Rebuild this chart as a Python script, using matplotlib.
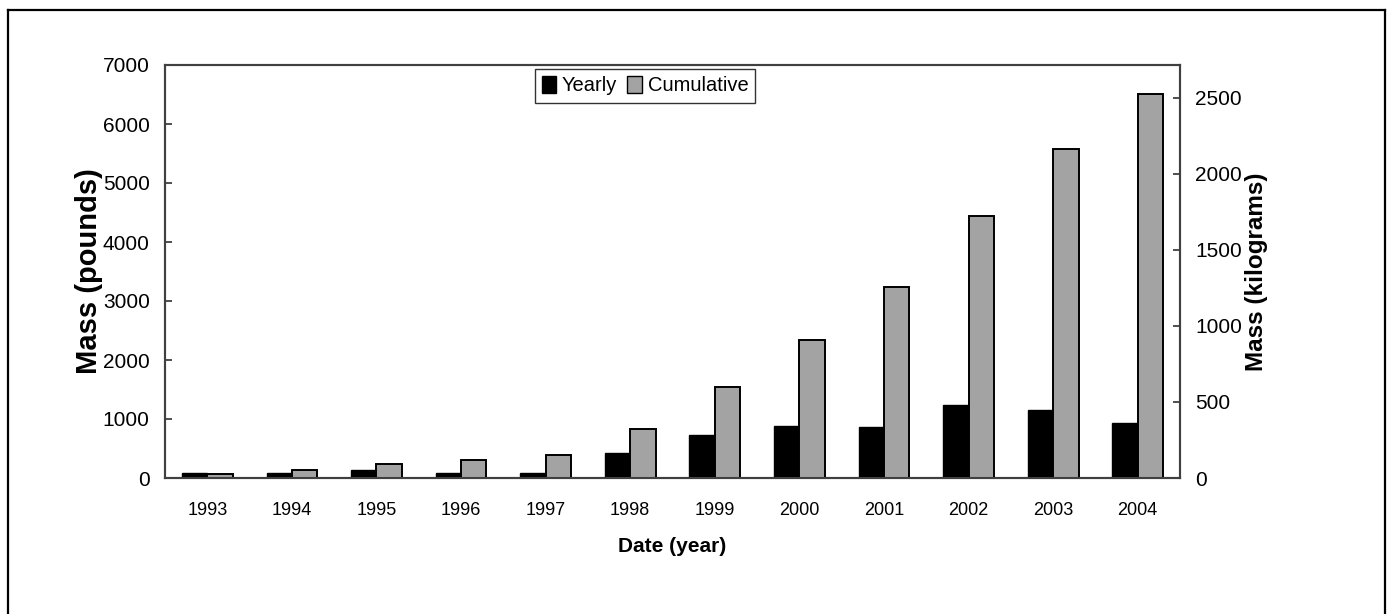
import matplotlib
matplotlib.use("Agg")
import matplotlib.pyplot as plt
from matplotlib.patches import Patch
from matplotlib.lines import Line2D
import numpy as np

years = ['1993', '1994', '1995', '1996', '1997', '1998',
         '1999', '2000', '2001', '2002', '2003', '2004']
yearly_lb = [85, 85, 135, 85, 90, 424, 729, 875, 865, 1232, 1159, 939]
cumulative_lb = [70, 130, 230, 305, 383, 824, 1535, 2347, 3237, 4436, 5583, 6515]
left_ticks = [0, 1000, 2000, 3000, 4000, 5000, 6000, 7000]
right_ticks = [0, 500, 1000, 1500, 2000, 2500]

tick_font = ['Liberation Sans Narrow', 'Liberation Sans', 'DejaVu Sans']
text_font = ['Liberation Sans', 'DejaVu Sans']
plt.rcParams['font.family'] = text_font

fig = plt.figure(figsize=(13.92, 6.14), dpi=100)
ax = fig.add_axes([165 / 1392, 1 - 478 / 614, 1015 / 1392, 413 / 614])

x = np.arange(len(years))
w = 0.3
ax.bar(x - w / 2, yearly_lb, w, color='black', edgecolor='black', linewidth=1.0,
       label='Yearly', zorder=3)
ax.bar(x + w / 2, cumulative_lb, w, color='#a3a3a3', edgecolor='black', linewidth=1.4,
       label='Cumulative', zorder=3)

ax.set_xlim(-0.5, len(years) - 0.5)
ax.set_ylim(0, 7000)
ax.set_yticks(left_ticks)
ax.set_xticks(x)
ax.set_xticklabels(years, family=tick_font, fontsize=13)
ax.set_yticklabels([str(t) for t in left_ticks], family=tick_font, fontsize=15)
ax.tick_params(axis='x', length=0, pad=17)
ax.tick_params(axis='y', direction='in', length=5, width=1.3, color='#404040', pad=11)
for s in ax.spines.values():
    s.set_color('#404040')
    s.set_linewidth(1.5)

ax.set_ylabel('Mass (pounds)', fontsize=21, fontweight='bold', family=text_font)
ax.yaxis.set_label_coords((89 - 165) / 1015, 0.5)
ax.set_xlabel('Date (year)', fontsize=15, fontweight='bold', family=text_font)
ax.xaxis.set_label_coords(0.5, -(547 - 478) / 413)
ax.xaxis.label.set_va('center')
ax.yaxis.label.set_va('center')

# second scale on the right
ax2 = ax.twinx()
ax2.set_ylim(0, 2715)
ax2.set_yticks(right_ticks)
ax2.set_yticklabels([str(t) for t in right_ticks], family=tick_font, fontsize=15)
ax2.tick_params(axis='y', direction='in', length=5, width=1.3, color='#404040', pad=11)
for s in ax2.spines.values():
    s.set_color('#404040')
    s.set_linewidth(1.5)
ax2.set_ylabel('Mass (kilograms)', fontsize=17.5, fontweight='bold', family=text_font,
               rotation=90)
ax2.yaxis.set_label_coords((1257 - 165) / 1015, 0.5)
ax2.yaxis.label.set_va('center')

handles = [Patch(facecolor='black', edgecolor='black', label='Yearly'),
           Patch(facecolor='#a3a3a3', edgecolor='black', linewidth=1.0, label='Cumulative')]
leg = ax2.legend(handles=handles, loc='upper center', bbox_to_anchor=(0.473, 0.99),
                 ncol=2, fontsize=14.5, frameon=True, fancybox=False, shadow=False,
                 handlelength=0.7, handleheight=0.9, handletextpad=0.3,
                 columnspacing=0.5, borderpad=0.35, borderaxespad=0)
leg.get_frame().set_edgecolor('black')
leg.get_frame().set_linewidth(1.0)

# outer frame (open at the bottom edge)
x0, x1 = 8 / 1392, 1385 / 1392
ytop = 1 - 10 / 614
for xs, ys in [([x0, x0], [0, ytop]), ([x0, x1], [ytop, ytop]), ([x1, x1], [ytop, 0])]:
    fig.add_artist(Line2D(xs, ys, transform=fig.transFigure, color='black', linewidth=1.6))

fig.savefig('out.png', dpi=100)
